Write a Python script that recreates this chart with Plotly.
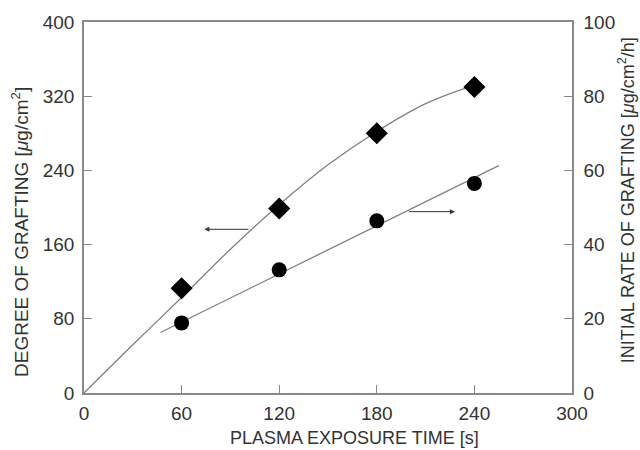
import plotly.graph_objects as go

# Data
time_s = [60, 120, 180, 240]
degree = [113, 199, 280, 330]          # left axis, diamonds
rate = [18.9, 33.2, 46.4, 56.5]        # right axis, circles

# smooth curve through degree data
curve_x = [0, 30, 60, 90, 120, 150, 180, 210, 240]
curve_y = [0, 52, 103, 155, 203, 246, 282, 312, 332]

# straight fit line for rate
fit_x = [47, 255]
fit_y = [16.3, 61.3]

x_ticks = [0, 60, 120, 180, 240, 300]
y1_ticks = [0, 80, 160, 240, 320, 400]
y2_ticks = [0, 20, 40, 60, 80, 100]

x_title = "PLASMA EXPOSURE TIME [s]"
y1_title = "DEGREE OF GRAFTING [<i>μ</i>g/cm<sup>2</sup>]"
y2_title = "INITIAL RATE OF GRAFTING [<i>μ</i>g/cm<sup>2</sup>/h]"

font_fam = "Liberation Sans, Arial, sans-serif"
txt_col = "#333333"
ax_col = "#8a8a8a"

fig = go.Figure()
fig.add_trace(go.Scatter(x=curve_x, y=curve_y, mode="lines", line=dict(color="#808080", width=1.3, shape="spline"),
                         showlegend=False, hoverinfo="skip"))
fig.add_trace(go.Scatter(x=time_s, y=degree, mode="markers",
                         marker=dict(symbol="diamond", size=17, color="black"), showlegend=False))
fig.add_trace(go.Scatter(x=fit_x, y=fit_y, mode="lines", line=dict(color="#808080", width=1.3),
                         yaxis="y2", showlegend=False, hoverinfo="skip"))
fig.add_trace(go.Scatter(x=time_s, y=rate, mode="markers",
                         marker=dict(symbol="circle", size=15, color="black"), yaxis="y2", showlegend=False))

# arrows
fig.add_annotation(x=74, y=176.5, ax=102, ay=176.5, xref="x", yref="y", axref="x", ayref="y",
                   showarrow=True, arrowhead=2, arrowsize=1, arrowwidth=1, arrowcolor="#333333", text="")
fig.add_annotation(x=228, y=195.5, ax=199, ay=195.5, xref="x", yref="y", axref="x", ayref="y",
                   showarrow=True, arrowhead=2, arrowsize=1, arrowwidth=1, arrowcolor="#333333", text="")

# axis titles as annotations
fig.add_annotation(text=x_title, xref="paper", yref="paper", x=0.555, y=-0.1213,
                   xanchor="center", yanchor="middle", showarrow=False, font=dict(size=18))
fig.add_annotation(text=y1_title, xref="paper", yref="paper", x=-0.1311, y=0.434, textangle=-90,
                   xanchor="center", yanchor="middle", showarrow=False, font=dict(size=19))
fig.add_annotation(text=y2_title, xref="paper", yref="paper", x=1.111, y=0.52, textangle=-90,
                   xanchor="center", yanchor="middle", showarrow=False, font=dict(size=18))

fig.update_layout(
    width=640, height=450,
    margin=dict(l=84, r=68, t=22, b=57),
    plot_bgcolor="white", paper_bgcolor="white",
    font=dict(family=font_fam, color=txt_col, size=19),
    xaxis=dict(range=[0, 300], tickvals=x_ticks, ticktext=[str(v) for v in x_ticks],
               showline=True, linecolor=ax_col, linewidth=1.5, mirror=True,
               ticks="inside", ticklen=8, tickcolor=ax_col, tickwidth=1,
               showgrid=False, zeroline=False, ticklabelstandoff=2),
    yaxis=dict(range=[0, 400], tickvals=y1_ticks, showline=True, linecolor=ax_col, linewidth=1.5,
               ticks="inside", ticklen=8, tickcolor=ax_col, tickwidth=1,
               showgrid=False, zeroline=False, ticklabelstandoff=4),
    yaxis2=dict(range=[0, 100], tickvals=y2_ticks, overlaying="y", side="right",
                showline=True, linecolor=ax_col, linewidth=1.5,
                ticks="inside", ticklen=8, tickcolor=ax_col, tickwidth=1,
                showgrid=False, zeroline=False, ticklabelstandoff=6),
)

fig.write_html("out.html")
